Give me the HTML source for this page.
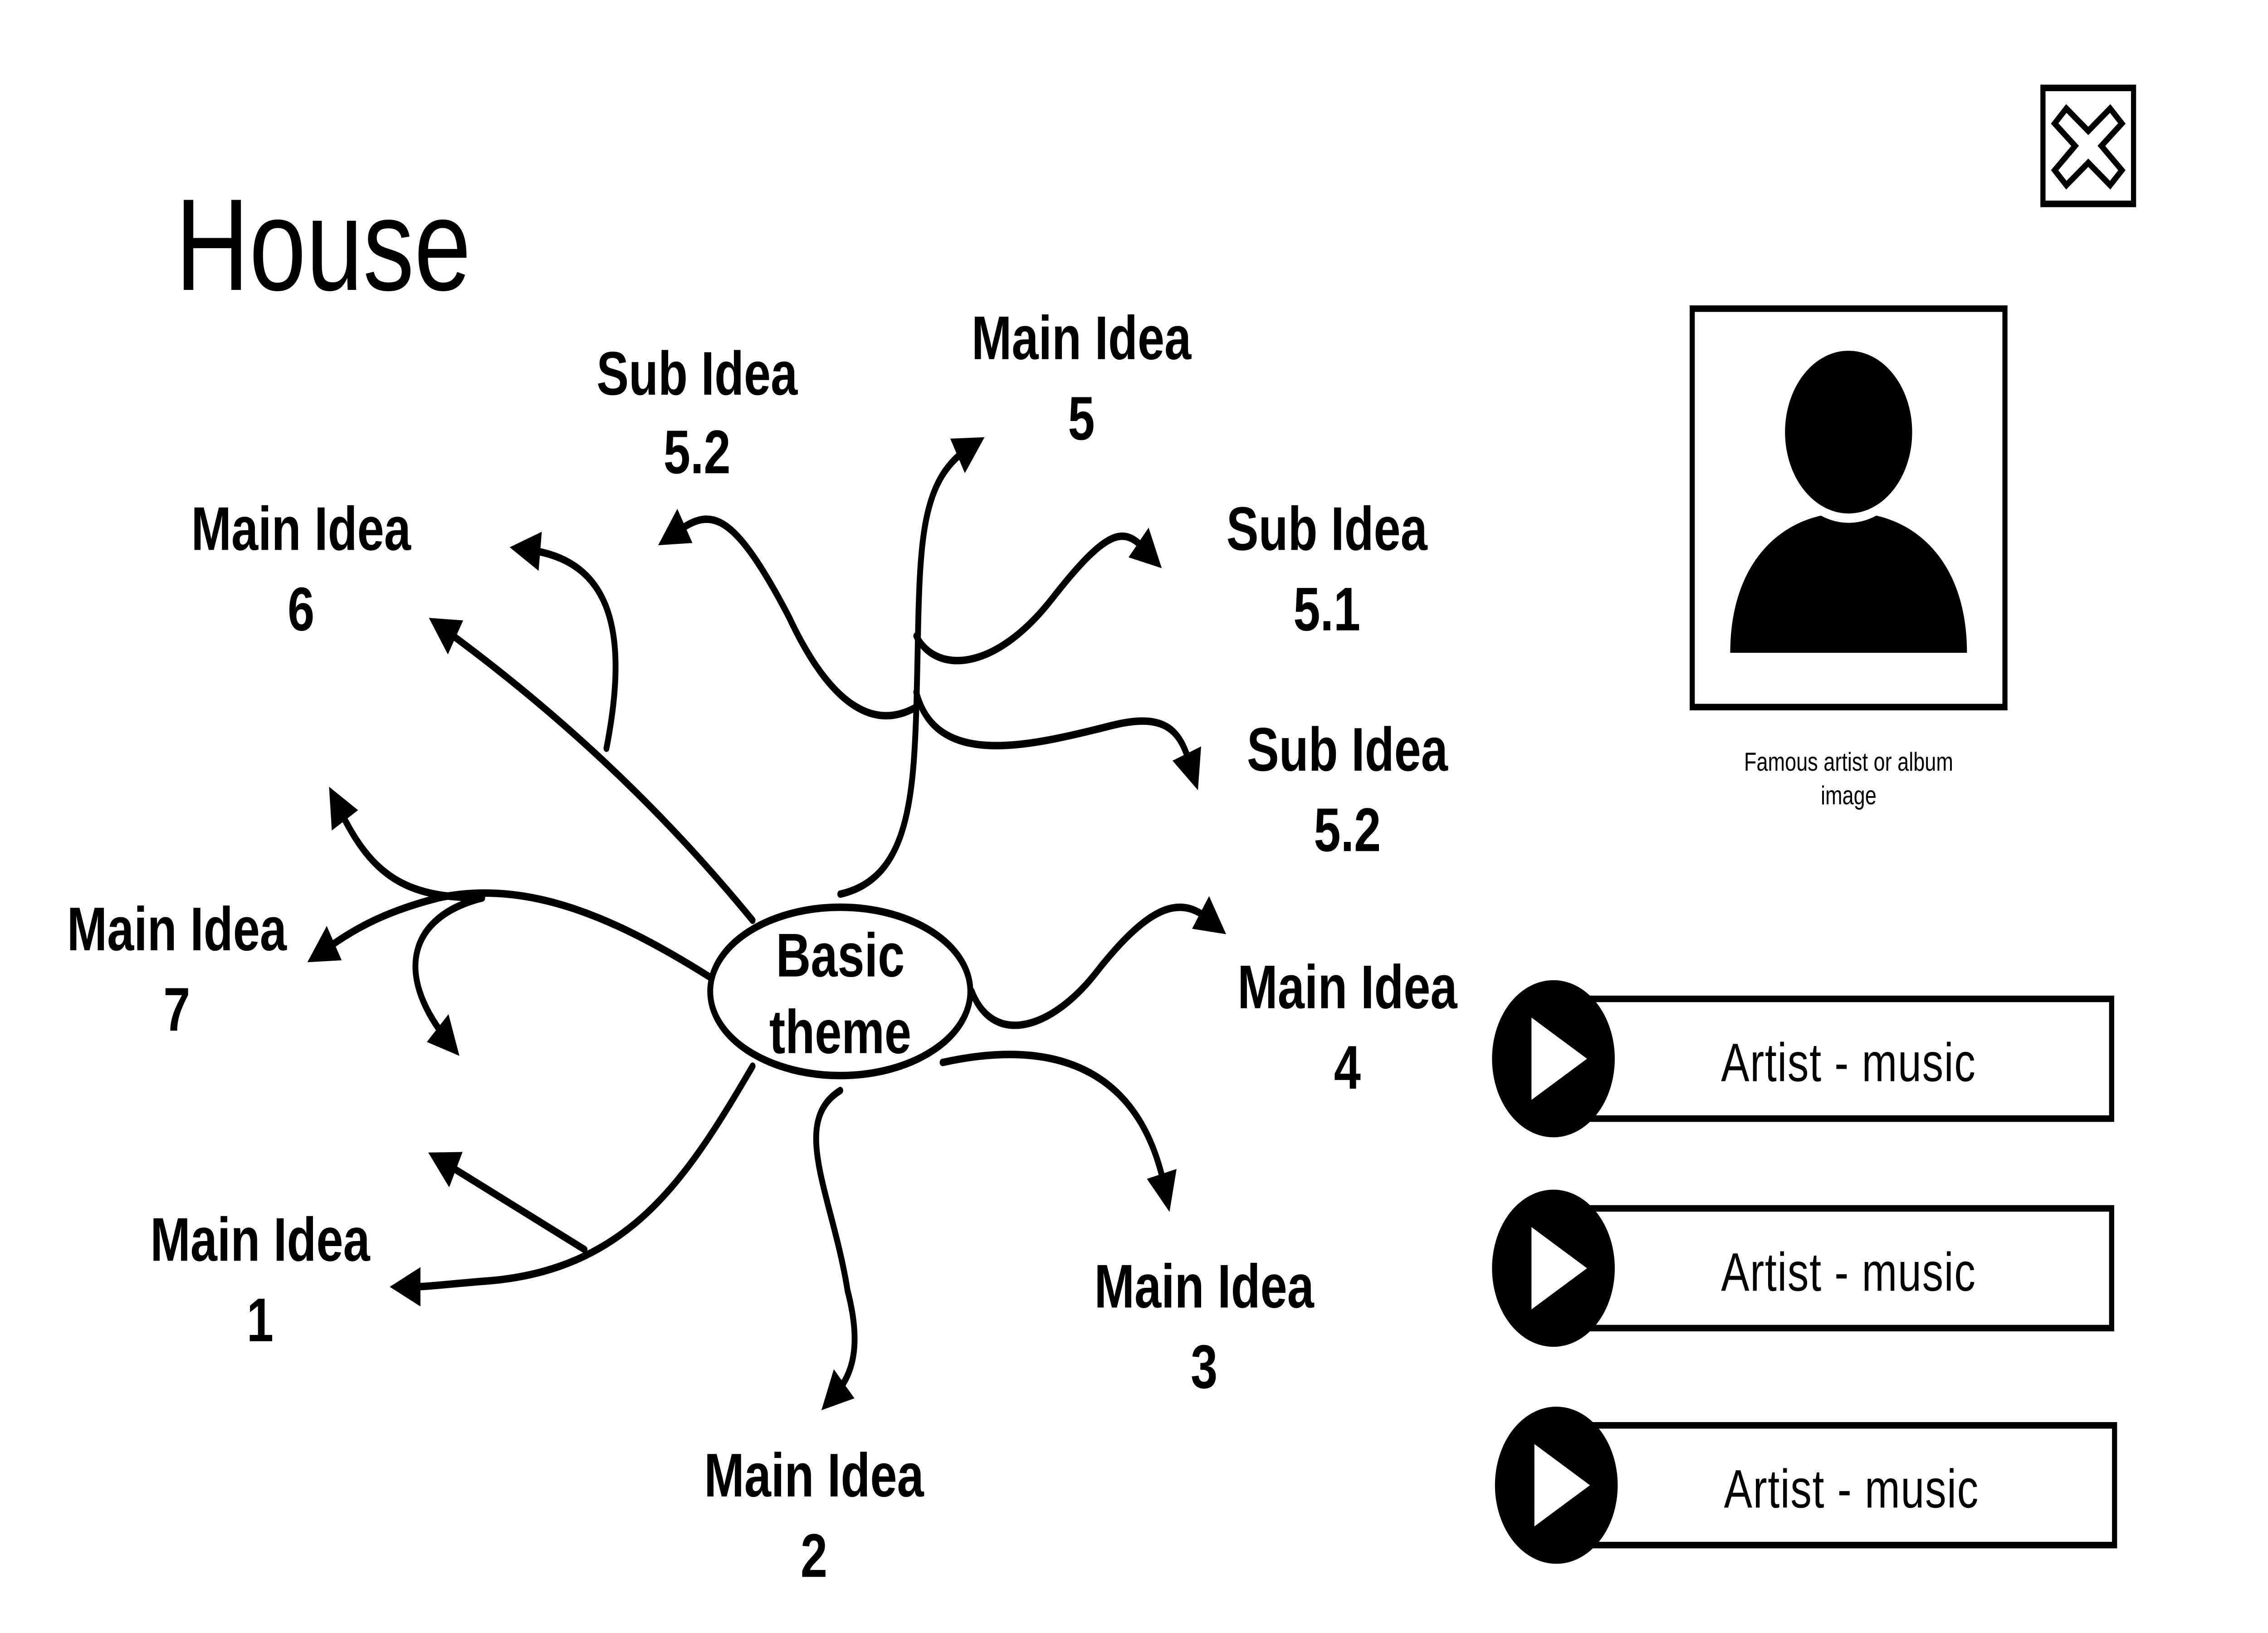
<!DOCTYPE html>
<html><head><meta charset="utf-8"><style>
html,body{margin:0;padding:0;background:#fff;width:100%;height:100%;overflow:hidden;}
svg{display:block;width:100vw;height:100vh;}
.l{font-family:"Liberation Sans",sans-serif;font-weight:bold;font-size:33px;text-anchor:middle;fill:#000;}
.c{fill:none;stroke:#000;stroke-width:4;stroke-linecap:round;marker-end:url(#a);}
.m{font-family:"Liberation Sans",sans-serif;font-size:29px;text-anchor:middle;fill:#000;letter-spacing:0.5px;}
</style></head><body>
<svg viewBox="0 0 1552 873" preserveAspectRatio="none" xmlns="http://www.w3.org/2000/svg">
<defs>
<marker id="a" viewBox="0 0 10 10" refX="2" refY="5" markerWidth="7" markerHeight="7" orient="auto" markerUnits="userSpaceOnUse" style="overflow:visible">
<path d="M0,0 L10,5 L0,10 z" fill="#000" transform="scale(3) translate(-3,-3.3)"/>
</marker>
</defs>
<rect width="1552" height="873" fill="#fff"/>
<text x="120" y="155" font-family="Liberation Sans,sans-serif" font-size="70" fill="#000">House</text>

<path class="c" d="M575,478 C620,470 625,430 627,380 C630,300 625,260 662,240"/>
<path class="c" d="M627,340 C640,360 680,360 720,320 C760,280 770,282 785,295"/>
<path class="c" d="M627,370 C640,410 700,400 760,388 C800,380 808,392 815,410"/>
<path class="c" d="M627,378 C600,390 570,380 540,330 C500,270 485,272 462,285"/>
<path class="c" d="M515,492 C450,430 380,380 305,337"/>
<path class="c" d="M415,400 C430,340 420,300 362,294"/>
<path class="c" d="M485,522 C420,490 360,470 300,480 C260,488 240,498 222,508"/>
<path class="c" d="M330,480 C280,480 255,470 232,432"/>
<path class="c" d="M330,480 C280,490 270,520 305,555"/>
<path class="c" d="M515,570 C470,630 430,680 330,685 C300,687 290,688 280,688"/>
<path class="c" d="M400,668 L305,622"/>
<path class="c" d="M575,583 C540,600 570,640 580,690 C590,720 583,735 572,745"/>
<path class="c" d="M645,568 C720,555 780,570 797,635"/>
<path class="c" d="M665,530 C680,560 720,550 750,520 C790,480 810,480 828,492"/>

<ellipse cx="575" cy="530" rx="89" ry="45" fill="#fff" stroke="#000" stroke-width="4"/>
<text class="l" x="575" y="522">Basic</text>
<text class="l" x="575" y="563">theme</text>

<text class="l" x="740" y="192">Main Idea</text><text class="l" x="740" y="235">5</text>
<text class="l" x="477" y="211">Sub Idea</text><text class="l" x="477" y="253">5.2</text>
<text class="l" x="908" y="294">Sub Idea</text><text class="l" x="908" y="337">5.1</text>
<text class="l" x="922" y="412">Sub Idea</text><text class="l" x="922" y="455">5.2</text>
<text class="l" x="206" y="294">Main Idea</text><text class="l" x="206" y="337">6</text>
<text class="l" x="121" y="508">Main Idea</text><text class="l" x="121" y="551">7</text>
<text class="l" x="922" y="539">Main Idea</text><text class="l" x="922" y="582">4</text>
<text class="l" x="178" y="674">Main Idea</text><text class="l" x="178" y="717">1</text>
<text class="l" x="824" y="699">Main Idea</text><text class="l" x="824" y="742">3</text>
<text class="l" x="557" y="800">Main Idea</text><text class="l" x="557" y="843">2</text>

<rect x="1398" y="47" width="62" height="62" fill="#fff" stroke="#000" stroke-width="3.5"/>
<path d="M1414,58 L1429,70 L1444,58 L1452,66 L1438,78 L1452,91 L1444,99 L1429,87 L1414,99 L1406,91 L1420,78 L1406,66 Z" fill="none" stroke="#000" stroke-width="3.5"/>

<rect x="1158" y="165" width="214" height="213" fill="#fff" stroke="#000" stroke-width="3.5"/>
<path d="M1184,349 C1184,300 1220,274 1265,274 C1310,274 1346,300 1346,349 Z" fill="#000"/>
<circle cx="1265" cy="231" r="46" fill="#000" stroke="#fff" stroke-width="5"/>
<text x="1265" y="412" font-family="Liberation Sans,sans-serif" font-size="14" text-anchor="middle">Famous artist or album</text>
<text x="1265" y="430" font-family="Liberation Sans,sans-serif" font-size="14" text-anchor="middle">image</text>

<rect x="1080" y="534" width="365" height="64" fill="#fff" stroke="#000" stroke-width="3.5"/>
<circle cx="1063" cy="566" r="42" fill="#000"/>
<path d="M1048,544 L1048,588 L1086,566 Z" fill="#fff"/>
<text class="m" x="1265" y="578">Artist  -  music</text>

<rect x="1080" y="646" width="365" height="64" fill="#fff" stroke="#000" stroke-width="3.5"/>
<circle cx="1063" cy="678" r="42" fill="#000"/>
<path d="M1048,656 L1048,700 L1086,678 Z" fill="#fff"/>
<text class="m" x="1265" y="690">Artist  -  music</text>

<rect x="1082" y="762" width="365" height="64" fill="#fff" stroke="#000" stroke-width="3.5"/>
<circle cx="1065" cy="794" r="42" fill="#000"/>
<path d="M1050,772 L1050,816 L1088,794 Z" fill="#fff"/>
<text class="m" x="1267" y="806">Artist  -  music</text>
</svg>
</body></html>
